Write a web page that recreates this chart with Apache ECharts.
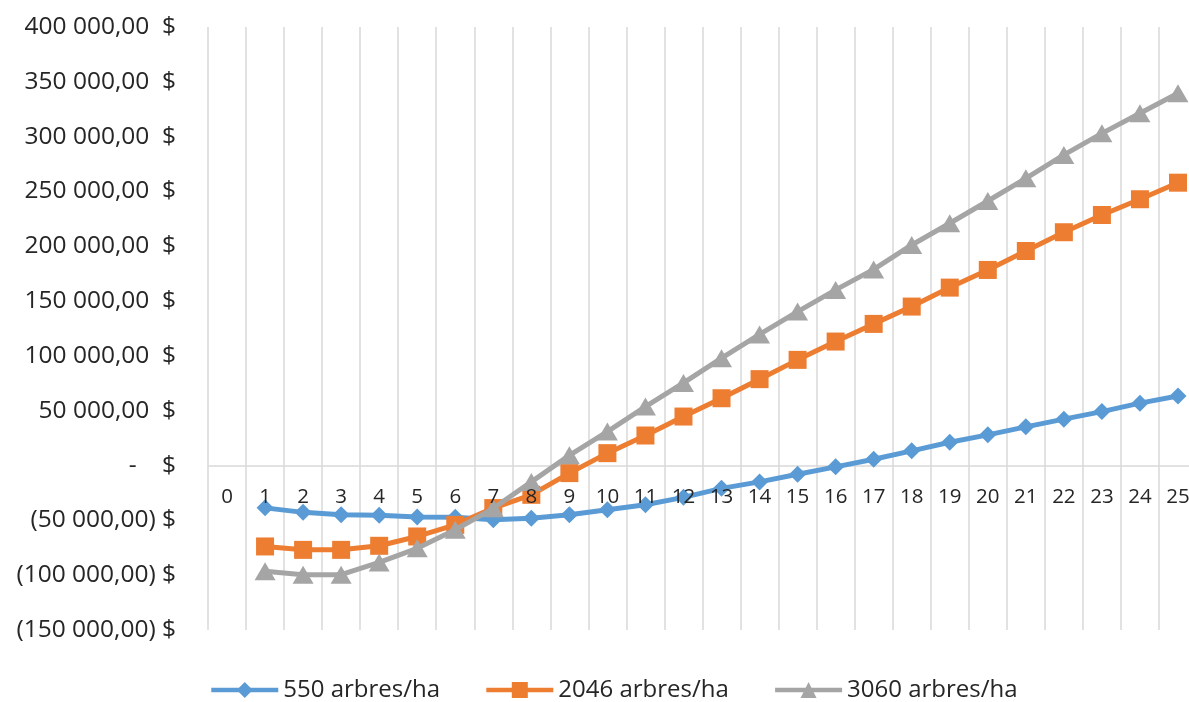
<!DOCTYPE html>
<html>
<head>
<meta charset="utf-8">
<script src="https://cdn.jsdelivr.net/npm/echarts@6/dist/echarts.min.js"></script>
<style>
html,body{margin:0;padding:0;background:#fff;}
#chart{width:1189px;height:702px;}
</style>
</head>
<body>
<div id="chart"></div>
<script>
const years = ['0','1','2','3','4','5','6','7','8','9','10','11','12','13','14','15','16','17','18','19','20','21','22','23','24','25'];
const seriesNames = ['550 arbres/ha', '2046 arbres/ha', '3060 arbres/ha'];
const s550 = [null, -38600, -42700, -44900, -45400, -47000, -47200, -49500, -48000, -44900, -40400, -35800, -29000, -20800, -14900, -8000, -1200, 5700, 13400, 21200, 28000, 35300, 42300, 49200, 56900, 63500];
const s2046 = [null, -73800, -76900, -76900, -73200, -64700, -54100, -38800, -26700, -6900, 11300, 27400, 44700, 61400, 78800, 96400, 113100, 129200, 145000, 162300, 178400, 195700, 212800, 228500, 242900, 258000];
const s3060 = [null, -96500, -99600, -99600, -88400, -75500, -58600, -39000, -14900, 9300, 31000, 53800, 75400, 97900, 119600, 140400, 160200, 178900, 201200, 221000, 241300, 262000, 283300, 303000, 321300, 339500];
const yMin = -150000, yMax = 400000, yStep = 50000;

const FONT = "'Open Sans', 'Liberation Sans', sans-serif";
const TXT = '#262626';
const GRID_TOP = 27, GRID_H = 603;
// place the category axis on the zero value line
const zeroOffset = -GRID_H * (0 - yMin) / (yMax - yMin);

function fmtMoney(v) {
  if (v === 0) return '-    $';
  const a = Math.abs(v);
  const s = String(Math.round(a)).replace(/\B(?=(\d{3})+(?!\d))/g, ' ') + ',00';
  return v < 0 ? '(' + s + ') $' : s + '  $';
}

const chart = echarts.init(document.getElementById('chart'), null, {renderer: 'canvas'});
chart.setOption({
  animation: false,
  backgroundColor: '#ffffff',
  textStyle: {fontFamily: FONT},
  color: ['#5B9BD5', '#ED7D31', '#A5A5A5'],
  grid: {left: 208, top: GRID_TOP, width: 989, height: GRID_H, containLabel: false, outerBoundsMode: 'none'},
  legend: {
    data: seriesNames,
    left: 204,
    top: 673,
    itemWidth: 67,
    itemHeight: 20,
    itemGap: 44,
    lineStyle: {width: 4.5},
    textStyle: {fontFamily: FONT, fontSize: 24, color: TXT}
  },
  xAxis: [
    {
      type: 'category',
      data: years,
      boundaryGap: true,
      offset: zeroOffset,
      z: 0,
      axisLine: {show: true, onZero: false, lineStyle: {color: '#d9d9d9', width: 1.5}},
      axisTick: {show: false},
      axisLabel: {show: false},
      splitLine: {show: true, interval: 0, lineStyle: {color: '#d9d9d9', width: 1.5}}
    },
    {
      type: 'category',
      data: years,
      boundaryGap: true,
      position: 'bottom',
      offset: zeroOffset,
      z: 10,
      axisLine: {show: false, onZero: false},
      axisTick: {show: false},
      splitLine: {show: false},
      axisLabel: {interval: 0, margin: 21, fontSize: 20.5, color: TXT, fontFamily: FONT}
    }
  ],
  yAxis: {
    type: 'value',
    min: yMin,
    max: yMax,
    interval: yStep,
    axisLine: {show: false},
    axisTick: {show: false},
    splitLine: {show: false},
    axisLabel: {margin: 32, fontSize: 24.5, color: TXT, fontFamily: FONT, formatter: fmtMoney}
  },
  series: [
    {name: seriesNames[0], type: 'line', data: s550, symbol: 'diamond', symbolSize: 17,
     lineStyle: {width: 5}, itemStyle: {color: '#5B9BD5'}, z: 3},
    {name: seriesNames[1], type: 'line', data: s2046, symbol: 'rect', symbolSize: 18,
     lineStyle: {width: 5}, itemStyle: {color: '#ED7D31'}, z: 4},
    {name: seriesNames[2], type: 'line', data: s3060, symbol: 'triangle', symbolSize: [21, 18],
     lineStyle: {width: 5}, itemStyle: {color: '#A5A5A5'}, z: 5}
  ]
});
</script>
</body>
</html>
